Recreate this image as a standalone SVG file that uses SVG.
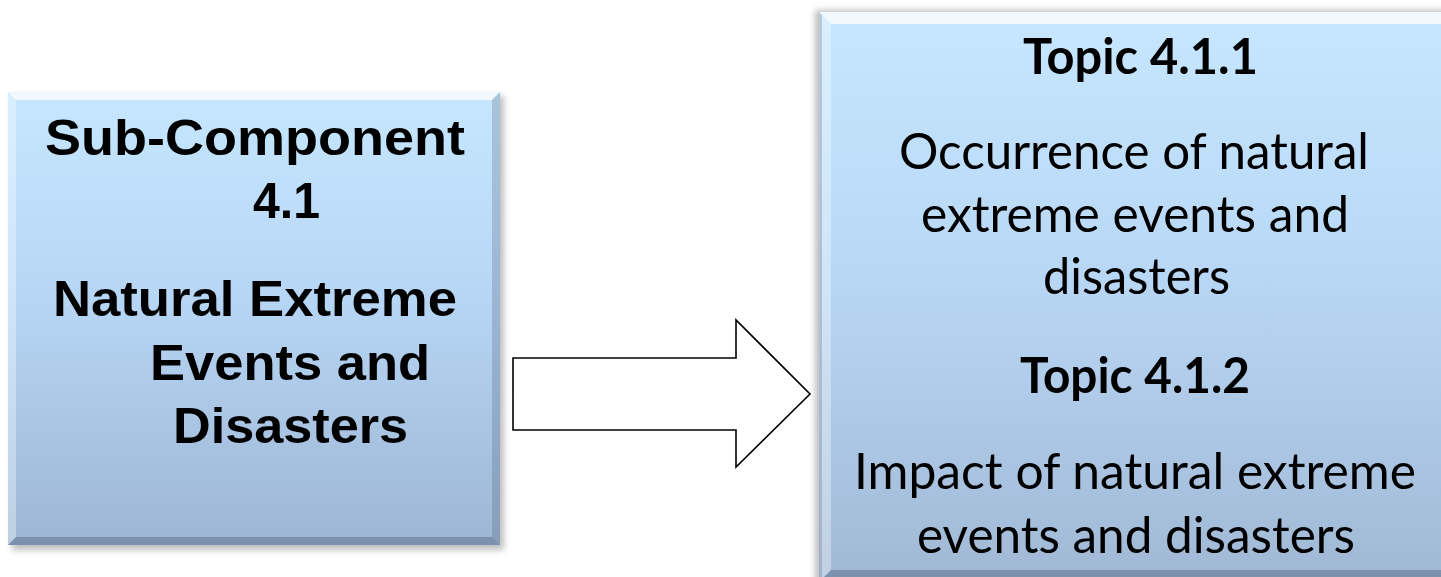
<svg xmlns="http://www.w3.org/2000/svg" width="1441" height="577" viewBox="0 0 1441 577">
<defs>
<linearGradient id="gL" x1="0" y1="0" x2="0" y2="1">
<stop offset="0" stop-color="#c6e7fe"/>
<stop offset="0.45" stop-color="#b7d6f5"/>
<stop offset="1" stop-color="#9db6d3"/>
</linearGradient>
<linearGradient id="gR" x1="0" y1="0" x2="0" y2="1">
<stop offset="0" stop-color="#c6e7fe"/>
<stop offset="0.45" stop-color="#b8d7f5"/>
<stop offset="1" stop-color="#9fb6d2"/>
</linearGradient>
<filter id="sh" x="-10%" y="-10%" width="120%" height="120%">
<feGaussianBlur stdDeviation="3"/>
</filter>
<style>
.bold{font-family:"Liberation Sans",Arial,sans-serif;font-weight:bold;fill:#000}
.cal{font-family:Lato,"Open Sans",sans-serif;fill:#000}
.calb{font-family:Lato,"Open Sans",sans-serif;font-weight:bold;fill:#000}
.hi{fill:#ffffff;opacity:0.75}
.hi2{fill:#ffffff;opacity:0.35}
.dk{fill:#3a4a60;opacity:0.35}
.dk2{fill:#3a4a60;opacity:0.22}
.shadow{fill:#000;opacity:0.25}
.arrow{fill:#fff;stroke:#000;stroke-width:1.6;stroke-linejoin:miter}
</style>
</defs>

<g id="node-subcomponent">
<rect class="shadow" x="12" y="96" width="492" height="454" filter="url(#sh)"/>
<rect x="8" y="92" width="492" height="453" fill="url(#gL)"/>
<polygon class="hi" points="8,92 500,92 492,100 16,100"/>
<polygon class="hi2" points="8,92 16,100 16,537 8,545"/>
<polygon class="dk2" points="500,92 500,545 492,537 492,100"/>
<polygon class="dk" points="8,545 500,545 492,537 16,537"/>
<text class="bold" x="45" y="155" font-size="50" textLength="420" lengthAdjust="spacingAndGlyphs">Sub-Component</text>
<text class="bold" x="253" y="218" font-size="50" textLength="67" lengthAdjust="spacingAndGlyphs">4.1</text>
<text class="bold" x="53" y="316" font-size="50" textLength="404" lengthAdjust="spacingAndGlyphs">Natural Extreme</text>
<text class="bold" x="150" y="380" font-size="50" textLength="280" lengthAdjust="spacingAndGlyphs">Events and</text>
<text class="bold" x="173" y="443" font-size="50" textLength="235" lengthAdjust="spacingAndGlyphs">Disasters</text>
</g>

<g id="connectors">
<polygon class="arrow" points="513,358 736,358 736,320 810,394 736,467 736,430 513,430"/>
</g>

<g id="node-topics">
<rect class="shadow" x="815" y="10" width="640" height="590" filter="url(#sh)"/>
<rect x="819" y="12" width="640" height="590" fill="url(#gR)"/>
<polygon class="hi" points="819,12 1459,12 1447,24 831,24"/>
<polygon class="hi2" points="819,12 831,24 831,570 819,582"/>
<polygon class="dk2" points="819,12 822,15 822,580 819,582"/>
<polygon class="dk" points="819,582 1459,582 1447,570 831,570"/>
<text class="calb" x="1023" y="74" font-size="50" textLength="235" lengthAdjust="spacingAndGlyphs">Topic 4.1.1</text>
<text class="cal" x="899" y="169" font-size="51" textLength="470" lengthAdjust="spacingAndGlyphs">Occurrence of natural</text>
<text class="cal" x="921" y="232" font-size="51" textLength="428" lengthAdjust="spacingAndGlyphs">extreme events and</text>
<text class="cal" x="1043" y="294" font-size="51" textLength="187" lengthAdjust="spacingAndGlyphs">disasters</text>
<text class="calb" x="1020" y="393" font-size="50" textLength="230" lengthAdjust="spacingAndGlyphs">Topic 4.1.2</text>
<text class="cal" x="854" y="489" font-size="51" textLength="562" lengthAdjust="spacingAndGlyphs">Impact of natural extreme</text>
<text class="cal" x="917" y="553" font-size="51" textLength="438" lengthAdjust="spacingAndGlyphs">events and disasters</text>
</g>
</svg>
